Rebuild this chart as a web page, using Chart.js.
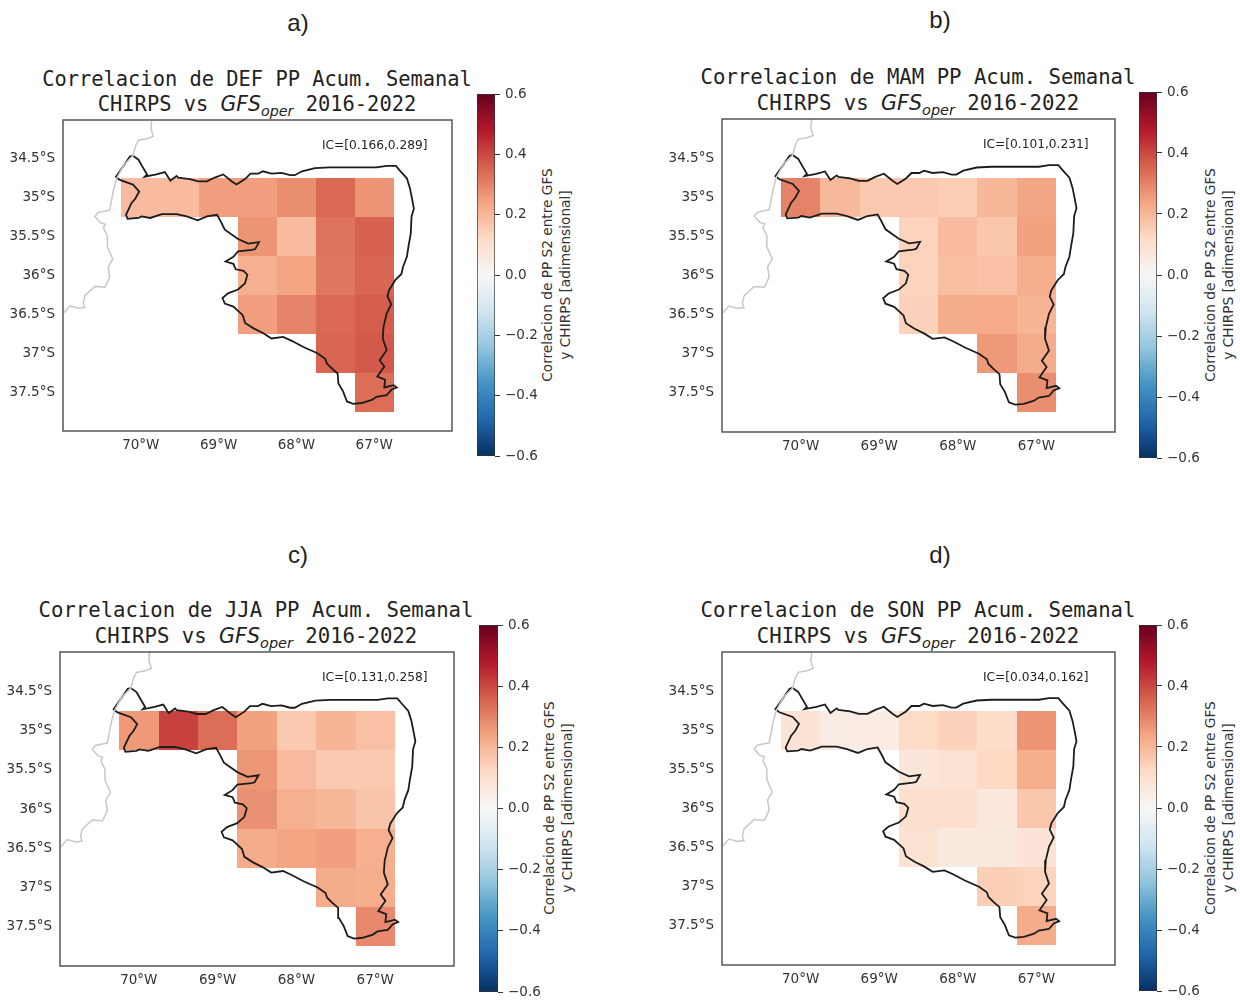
<!DOCTYPE html>
<html>
<head>
<meta charset="utf-8">
<script src="https://cdn.jsdelivr.net/npm/chart.js@4"></script>
<style>
  html, body { margin: 0; background: #fff; }
  #page { position: relative; width: 1240px; height: 1001px; overflow: hidden; }
  canvas { position: absolute; }
  .letter { position: absolute; font: 24px "Liberation Sans", sans-serif; color: #222; transform: translate(-50%, -50%); }
  .title { position: absolute; font-family: "DejaVu Sans Mono", monospace; line-height: 25.7px; color: #222; text-align: center; white-space: nowrap; transform: translateX(-50%); }
  .title i { font-family: "DejaVu Sans", sans-serif; }
  .title sub { font-size: 0.7em; line-height: 0; }
  .ic { position: absolute; font: 12.2px "DejaVu Sans", sans-serif; color: #222; white-space: nowrap; transform: translateY(-50%); }
  .cblabel { position: absolute; font: 13.7px/18px "DejaVu Sans", sans-serif; color: #333; text-align: center; white-space: nowrap; transform: translate(-50%, -50%) rotate(-90deg); }
</style>
</head>
<body>
<div id="page"></div>
<script>
// Cell centres (lon, lat), 0.5 degree grid
const cellLons = [-70, -69.5, -69, -68.5, -68, -67.5, -67,
  -68.5, -68, -67.5, -67,
  -68.5, -68, -67.5, -67,
  -68.5, -68, -67.5, -67,
  -67.5, -67,
  -67];
const cellLats = [-35, -35, -35, -35, -35, -35, -35,
  -35.5, -35.5, -35.5, -35.5,
  -36, -36, -36, -36,
  -36.5, -36.5, -36.5, -36.5,
  -37, -37,
  -37.5];

// Correlation per cell
const defValues = [0.19, 0.19, 0.25, 0.25, 0.28, 0.345, 0.27,
  0.27, 0.19, 0.325, 0.355,
  0.215, 0.24, 0.32, 0.35,
  0.25, 0.30, 0.345, 0.365,
  0.35, 0.37,
  0.335];
const mamValues = [0.30, 0.195, 0.16, 0.16, 0.15, 0.20, 0.235,
  0.135, 0.19, 0.165, 0.245,
  0.135, 0.185, 0.18, 0.22,
  0.14, 0.225, 0.23, 0.205,
  0.26, 0.225,
  0.28];
const jjaValues = [0.26, 0.41, 0.335, 0.245, 0.16, 0.205, 0.18,
  0.265, 0.19, 0.16, 0.16,
  0.275, 0.215, 0.20, 0.17,
  0.225, 0.24, 0.25, 0.215,
  0.225, 0.22,
  0.29];
const sonValues = [0.085, 0.045, 0.05, 0.12, 0.14, 0.115, 0.27,
  0.075, 0.09, 0.125, 0.22,
  0.105, 0.105, 0.07, 0.165,
  0.09, 0.06, 0.06, 0.08,
  0.15, 0.135,
  0.225];

const seasonNames = ['DEF', 'MAM', 'JJA', 'SON'];
const seasonValues = [defValues, mamValues, jjaValues, sonValues];
const icLabels = ['IC=[0.166,0.289]', 'IC=[0.101,0.231]', 'IC=[0.131,0.258]', 'IC=[0.034,0.162]'];
const panelLetters = ['a)', 'b)', 'c)', 'd)'];

const lonTicks = [-70, -69, -68, -67];
const latTicks = [-34.5, -35, -35.5, -36, -36.5, -37, -37.5];
const cbarTicks = [-0.6, -0.4, -0.2, 0, 0.2, 0.4, 0.6];

// Province outline
const outlineLons = [-70.10, -70.03, -69.99, -69.92, -69.95, -69.80, -69.69, -69.62, -69.54, -69.52, -69.37, -69.26, -69.15, -69.05, -68.94, -68.83, -68.77, -68.66, -68.59, -68.49, -68.43, -68.32, -68.19, -68.08, -68.02, -67.93, -67.76, -67.57, -67.22, -66.97, -66.84, -66.72, -66.67, -66.58, -66.54, -66.51, -66.49, -66.52, -66.53, -66.56, -66.58, -66.63, -66.65, -66.73, -66.81, -66.83, -66.78, -66.84, -66.88, -66.89, -66.84, -66.93, -66.87, -66.96, -66.86, -66.87, -66.75, -66.71, -66.78, -66.84, -66.97, -67.03, -67.16, -67.27, -67.35, -67.40, -67.46, -67.47, -67.55, -67.61, -67.63, -67.73, -67.91, -68.06, -68.17, -68.32, -68.43, -68.55, -68.66, -68.69, -68.81, -68.92, -68.95, -68.88, -68.75, -68.66, -68.63, -68.68, -68.78, -68.81, -68.91, -68.81, -68.75, -68.57, -68.53, -68.48, -68.62, -68.75, -68.92, -68.97, -69.02, -69.15, -69.27, -69.41, -69.54, -69.73, -69.88, -69.99, -70.03, -70.17, -70.19, -70.12, -70.07, -70.02, -70.10, -70.27, -70.32, -70.23, -70.14, -70.10];
const outlineLats = [-34.46, -34.51, -34.58, -34.70, -34.73, -34.70, -34.67, -34.78, -34.72, -34.74, -34.76, -34.79, -34.79, -34.74, -34.70, -34.79, -34.83, -34.76, -34.69, -34.69, -34.66, -34.69, -34.68, -34.71, -34.71, -34.66, -34.62, -34.61, -34.61, -34.61, -34.59, -34.59, -34.65, -34.75, -34.88, -35.03, -35.14, -35.24, -35.46, -35.63, -35.76, -35.89, -35.98, -36.06, -36.19, -36.27, -36.37, -36.49, -36.66, -36.81, -36.96, -37.09, -37.17, -37.30, -37.34, -37.44, -37.41, -37.44, -37.47, -37.54, -37.56, -37.60, -37.64, -37.65, -37.62, -37.49, -37.39, -37.26, -37.19, -37.13, -37.07, -37.00, -36.92, -36.84, -36.79, -36.81, -36.74, -36.68, -36.61, -36.51, -36.40, -36.36, -36.29, -36.23, -36.18, -36.10, -35.99, -35.94, -35.92, -35.85, -35.82, -35.76, -35.69, -35.67, -35.66, -35.57, -35.59, -35.53, -35.41, -35.31, -35.22, -35.24, -35.29, -35.24, -35.21, -35.21, -35.26, -35.24, -35.26, -35.27, -35.22, -35.07, -35.01, -34.92, -34.83, -34.77, -34.73, -34.60, -34.47, -34.46];

// Country border (grey)
const borderLons = [-69.86, -69.87, -69.84, -69.92, -70.03, -70.07, -70.10, -70.22, -70.31, -70.35, -70.40, -70.55, -70.59, -70.52, -70.46, -70.48, -70.43, -70.43, -70.36, -70.42, -70.40, -70.46, -70.59, -70.72, -70.74, -70.72, -70.80, -70.91, -70.99];
const borderLats = [-34.00, -34.11, -34.21, -34.24, -34.26, -34.34, -34.46, -34.58, -34.75, -34.90, -35.16, -35.19, -35.24, -35.32, -35.34, -35.39, -35.49, -35.63, -35.79, -35.89, -36.02, -36.15, -36.14, -36.26, -36.36, -36.41, -36.42, -36.39, -36.48];

// RdBu_r from -0.6 to 0.6
const rdbuColors = ['#053061', '#2166ac', '#4393c3', '#92c5de', '#d1e5f0', '#f7f7f7', '#fddbc7', '#f4a582', '#d6604d', '#b2182b', '#67001f'];

// Where each panel sits on the page
const panelLayout = [
  { box: [63, 120, 389, 311], bar: [477, 94, 18, 362], letter: [298, 23], title: [257, 66.5], titleSize: 20.4, ic: [322, 145], label: [556, 275] },
  { box: [722, 119, 393, 313], bar: [1139, 92, 18, 366], letter: [940, 20], title: [918, 65], titleSize: 20.65, ic: [983, 144], label: [1219, 275] },
  { box: [60, 652, 394, 314], bar: [479, 625, 19, 367], letter: [298, 555], title: [256, 598], titleSize: 20.65, ic: [322, 677], label: [558, 808] },
  { box: [722, 652, 393, 313], bar: [1139, 625, 18, 366], letter: [940, 555], title: [918, 598], titleSize: 20.65, ic: [983, 677], label: [1219, 808] },
];

const CELL_SIZE = 0.5;
const tickFont = { family: 'DejaVu Sans', size: 13.5 };
const tickColor = '#333';
const page = document.getElementById('page');

const hexToRgb = (hex) => [1, 3, 5].map(i => parseInt(hex.slice(i, i + 2), 16));

const valueToColor = (value) => {
  const pos = Math.min(Math.max((value + 0.6) / 1.2, 0), 1) * (rdbuColors.length - 1);
  const low = Math.min(Math.floor(pos), rdbuColors.length - 2);
  const a = hexToRgb(rdbuColors[low]);
  const b = hexToRgb(rdbuColors[low + 1]);
  const t = pos - low;
  return `rgb(${a.map((c, i) => Math.round(c + (b[i] - c) * t)).join(',')})`;
};

const addDiv = (className, left, top, html) => {
  const div = document.createElement('div');
  div.className = className;
  div.style.left = left + 'px';
  div.style.top = top + 'px';
  div.innerHTML = html;
  page.appendChild(div);
  return div;
};

const addCanvas = (left, top, width, height) => {
  const canvas = document.createElement('canvas');
  canvas.width = width;
  canvas.height = height;
  canvas.style.left = left + 'px';
  canvas.style.top = top + 'px';
  page.appendChild(canvas);
  return canvas;
};

// Draws the heat cells through the scales, and the frame on top
const cellsPlugin = {
  id: 'cells',
  beforeDatasetsDraw(chart, args, opts) {
    const { ctx, scales: { x, y } } = chart;
    opts.values.forEach((value, i) => {
      const x0 = Math.round(x.getPixelForValue(cellLons[i] - CELL_SIZE / 2));
      const x1 = Math.round(x.getPixelForValue(cellLons[i] + CELL_SIZE / 2));
      const y0 = Math.round(y.getPixelForValue(cellLats[i] + CELL_SIZE / 2));
      const y1 = Math.round(y.getPixelForValue(cellLats[i] - CELL_SIZE / 2));
      ctx.fillStyle = valueToColor(value);
      ctx.fillRect(x0, y0, x1 - x0, y1 - y0);
    });
  },
  afterDraw(chart) {
    const { ctx, chartArea: a } = chart;
    ctx.strokeStyle = '#555';
    ctx.lineWidth = 1.5;
    ctx.strokeRect(a.left, a.top, a.right - a.left, a.bottom - a.top);
  },
};

const drawMap = (layout, values) => {
  const [bx, by, bw, bh] = layout.box;
  const yAxisWidth = 60;
  const xAxisHeight = 30;
  const canvas = addCanvas(bx - yAxisWidth, by - 2, yAxisWidth + bw + 4, bh + 2 + xAxisHeight);
  new Chart(canvas.getContext('2d'), {
    type: 'scatter',
    data: {
      datasets: [
        {
          data: borderLons.map((lon, i) => ({ x: lon, y: borderLats[i] })),
          showLine: true, pointRadius: 0, borderColor: '#c8c8c8', borderWidth: 1.5,
        },
        {
          data: outlineLons.map((lon, i) => ({ x: lon, y: outlineLats[i] })),
          showLine: true, pointRadius: 0, borderColor: '#1c1c1c', borderWidth: 1.8,
        },
      ],
    },
    options: {
      responsive: false,
      animation: false,
      devicePixelRatio: 1,
      layout: { padding: { top: 2, right: 4, left: 0, bottom: 0 } },
      plugins: { legend: { display: false }, tooltip: { enabled: false }, cells: { values } },
      scales: {
        x: {
          type: 'linear', min: -71, max: -66,
          grid: { display: false, drawTicks: false }, border: { display: false },
          afterBuildTicks: (scale) => { scale.ticks = lonTicks.map(value => ({ value })); },
          afterFit: (scale) => {
            scale.height = xAxisHeight;
            scale.paddingLeft = 0;
            scale.paddingRight = 0;
          },
          ticks: {
            autoSkip: false, maxRotation: 0, padding: 6, color: tickColor, font: tickFont,
            callback: (v) => `${-v}°W`,
          },
        },
        y: {
          type: 'linear', min: -38, max: -34,
          grid: { display: false, drawTicks: false }, border: { display: false },
          afterBuildTicks: (scale) => { scale.ticks = latTicks.map(value => ({ value })); },
          afterFit: (scale) => {
            scale.width = yAxisWidth;
            scale.paddingTop = 0;
            scale.paddingBottom = 0;
          },
          ticks: {
            autoSkip: false, padding: 8, color: tickColor, font: tickFont,
            callback: (v) => `${-v}°S`,
          },
        },
      },
    },
    plugins: [cellsPlugin],
  });
};

const drawColorbar = (layout) => {
  const [bx, by, bw, bh] = layout.bar;
  const pad = 10;
  const axisWidth = 50;
  const canvas = addCanvas(bx, by - pad, bw + axisWidth, bh + pad * 2);
  new Chart(canvas.getContext('2d'), {
    type: 'bar',
    data: {
      labels: [''],
      datasets: [{
        data: [[-0.6, 0.6]],
        barPercentage: 1,
        categoryPercentage: 1,
        borderSkipped: false,
        borderWidth: 1,
        borderColor: '#333',
        backgroundColor: (context) => {
          const area = context.chart.chartArea;
          if (!area) return '#fff';
          const gradient = context.chart.ctx.createLinearGradient(0, area.bottom, 0, area.top);
          rdbuColors.forEach((color, i) => gradient.addColorStop(i / (rdbuColors.length - 1), color));
          return gradient;
        },
      }],
    },
    options: {
      responsive: false,
      animation: false,
      devicePixelRatio: 1,
      layout: { padding: { top: pad, bottom: pad, left: 0, right: 0 } },
      plugins: { legend: { display: false }, tooltip: { enabled: false } },
      scales: {
        x: { display: false },
        y: {
          position: 'right', min: -0.6, max: 0.6,
          border: { display: false },
          grid: { drawOnChartArea: false, drawTicks: true, tickLength: 5, color: '#333' },
          afterBuildTicks: (scale) => { scale.ticks = cbarTicks.map(value => ({ value })); },
          afterFit: (scale) => {
            scale.width = axisWidth;
            scale.paddingTop = 0;
            scale.paddingBottom = 0;
          },
          ticks: {
            autoSkip: false, padding: 5, color: tickColor, font: tickFont,
            callback: (v) => v.toFixed(1).replace('-', '\u2212'),
          },
        },
      },
    },
  });
};

panelLayout.forEach((layout, p) => {
  addDiv('letter', layout.letter[0], layout.letter[1], panelLetters[p]);
  const title = addDiv('title', layout.title[0], layout.title[1],
    `Correlacion de ${seasonNames[p]} PP Acum. Semanal<br>CHIRPS vs <i>GFS<sub>oper</sub></i> 2016-2022`);
  title.style.fontSize = layout.titleSize + 'px';
  addDiv('cblabel', layout.label[0], layout.label[1], 'Correlacion de PP S2 entre GFS<br>y CHIRPS [adimensional]');
  drawMap(layout, seasonValues[p]);
  drawColorbar(layout);
  addDiv('ic', layout.ic[0], layout.ic[1], icLabels[p]);
});
</script>
</body>
</html>
